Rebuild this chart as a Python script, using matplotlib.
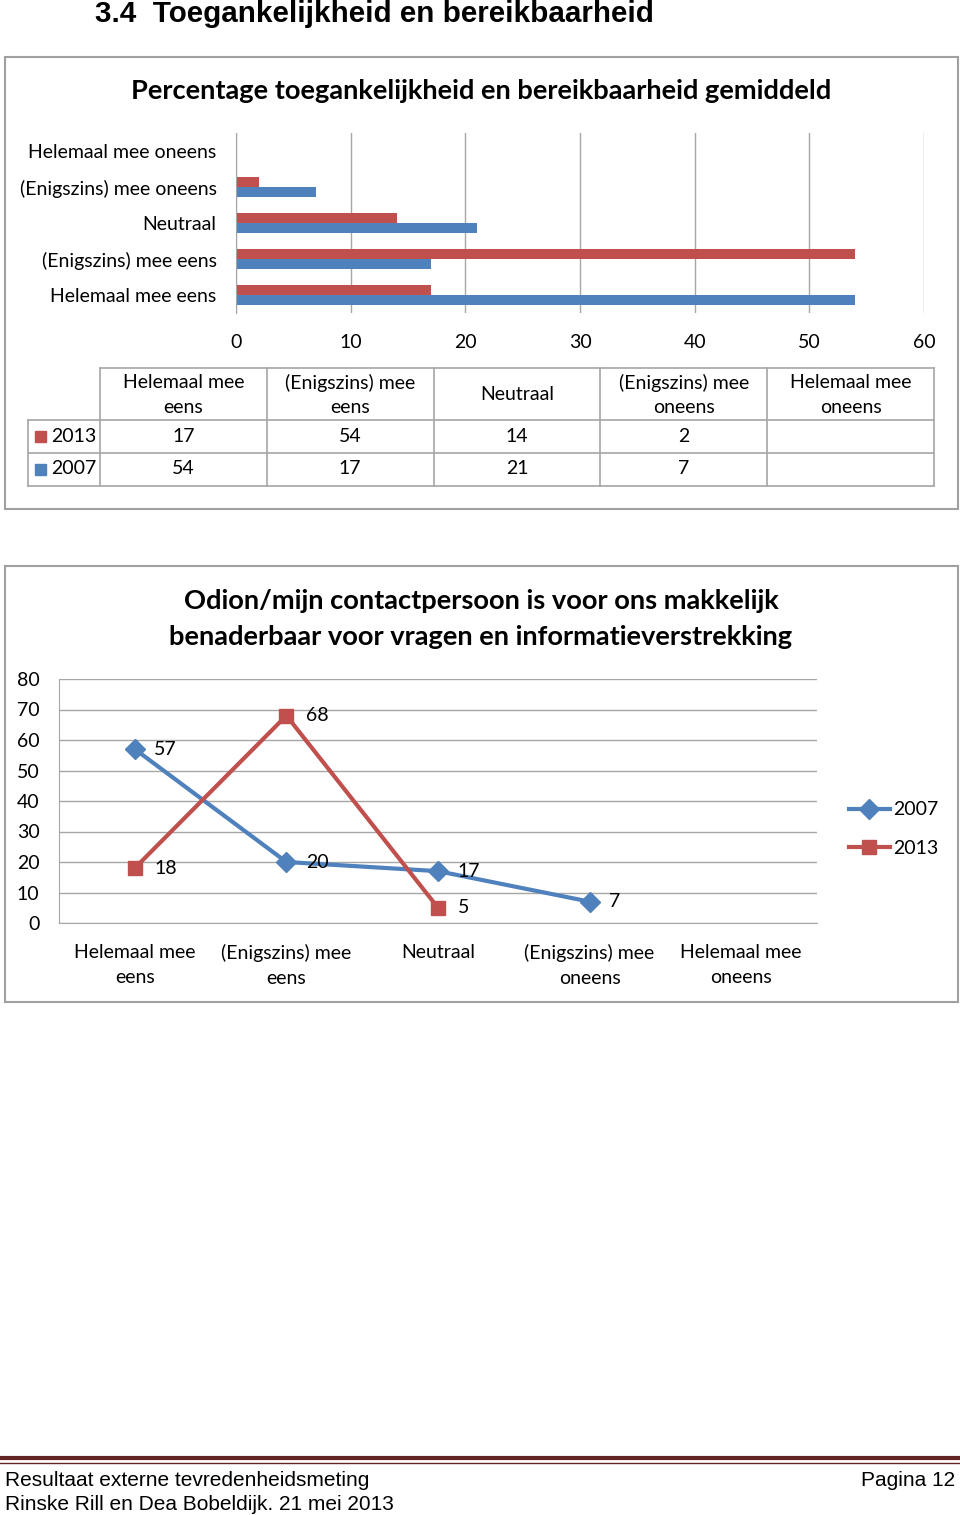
import numpy as np
import matplotlib
matplotlib.use("Agg")
import matplotlib.pyplot as plt
from matplotlib.patches import Rectangle
from matplotlib.lines import Line2D

W, H = 960, 1515

# --- data ---
categories = ["Helemaal mee eens", "(Enigszins) mee eens", "Neutraal",
              "(Enigszins) mee oneens", "Helemaal mee oneens"]
header_labels = ["Helemaal mee\neens", "(Enigszins) mee\neens", "Neutraal",
                 "(Enigszins) mee\noneens", "Helemaal mee\noneens"]
bar_2013 = [17, 54, 14, 2, np.nan]
bar_2007 = [54, 17, 21, 7, np.nan]
bar_ticks = [0, 10, 20, 30, 40, 50, 60]

line_cats = ["Helemaal mee\neens", "(Enigszins) mee\neens", "Neutraal",
             "(Enigszins) mee\noneens", "Helemaal mee\noneens"]
line_2007 = [57, 20, 17, 7, np.nan]
line_2013 = [18, 68, 5, np.nan, np.nan]
line_ticks = [0, 10, 20, 30, 40, 50, 60, 70, 80]

BLUE = "#4F81BD"
RED = "#C0504D"
GRID = "#A6A6A6"
BORDER = "#A0A0A0"
FONT = "Lato"
FS = 14


def rect(x0, y0, x1, y1):
    # pixel box (top-left origin) -> figure coords
    return [x0 / W, 1 - y1 / H, (x1 - x0) / W, (y1 - y0) / H]


def fx(x):
    return x / W


def fy(y):
    return 1 - y / H


fig = plt.figure(figsize=(W / 100, H / 100), dpi=100)
plt.rcParams["font.family"] = [FONT, "DejaVu Sans"]

# heading
fig.text(fx(95), fy(14), "3.4  Toegankelijkheid en bereikbaarheid",
         fontsize=21.3, fontweight="bold", family="Liberation Sans",
         ha="left", va="center")

# chart boxes
for box in [(5, 57, 958, 509), (5, 566, 958, 1002)]:
    fig.add_artist(Rectangle((fx(box[0]), fy(box[3])),
                             (box[2] - box[0]) / W, (box[3] - box[1]) / H,
                             transform=fig.transFigure, fill=False,
                             edgecolor=BORDER, lw=1.5))

# ---------- chart 1: horizontal bars ----------
fig.text(fx(481), fy(91), "Percentage toegankelijkheid en bereikbaarheid gemiddeld",
         fontsize=19.6, fontweight="bold", ha="center", va="center")

ax1 = fig.add_axes(rect(236, 133, 924, 313))
y = np.arange(len(categories))
ax1.barh(y - 0.15, bar_2007, height=0.28, color=BLUE)
ax1.barh(y + 0.14, bar_2013, height=0.28, color=RED)
ax1.set_xlim(0, 60)
ax1.set_ylim(-0.5, 4.5)
ax1.set_xticks(bar_ticks)
ax1.set_yticks(y)
ax1.set_yticklabels(categories)
ax1.xaxis.grid(True, color=GRID, lw=1)
ax1.set_axisbelow(True)
for s in ["top", "right", "bottom"]:
    ax1.spines[s].set_visible(False)
ax1.spines["left"].set_color(GRID)
ax1.tick_params(axis="both", length=0, labelsize=FS)
ax1.tick_params(axis="y", pad=14)
ax1.tick_params(axis="x", pad=15)

# data table under chart 1
tab = fig.add_axes(rect(28, 368, 934, 486))
tab.set_xlim(28, 934)
tab.set_ylim(486, 368)
tab.axis("off")
col_edges = np.linspace(100, 934, len(categories) + 1)
lc = dict(color=GRID, lw=1.2, clip_on=False)
tab.plot([100, 934], [368, 368], **lc)
for yy in [420, 453, 486]:
    tab.plot([28, 934], [yy, yy], **lc)
tab.plot([28, 28], [420, 486], **lc)
for xx in col_edges:
    tab.plot([xx, xx], [368, 486], **lc)
centers = (col_edges[:-1] + col_edges[1:]) / 2
for cx, lab in zip(centers, header_labels):
    tab.text(cx, 395, lab, ha="center", va="center", fontsize=FS,
             linespacing=1.55)
for row_y, name, vals, col in [(436, "2013", bar_2013, RED),
                               (469, "2007", bar_2007, BLUE)]:
    tab.add_patch(Rectangle((35, row_y - 5), 11, 11, color=col))
    tab.text(51, row_y, name, ha="left", va="center", fontsize=FS)
    for cx, v in zip(centers, vals):
        if not np.isnan(v):
            tab.text(cx, row_y, f"{v:g}", ha="center", va="center", fontsize=FS)

# ---------- chart 2: lines ----------
fig.text(fx(481), fy(619),
         "Odion/mijn contactpersoon is voor ons makkelijk\nbenaderbaar voor vragen en informatieverstrekking",
         fontsize=19.6, fontweight="bold", ha="center", va="center", linespacing=1.58)

ax2 = fig.add_axes(rect(59, 679, 817, 923))
x = np.arange(len(line_cats))
ax2.plot(x, line_2007, color=BLUE, lw=3, marker="D", ms=10, label="2007")
ax2.plot(x, line_2013, color=RED, lw=3, marker="s", ms=10, label="2013")
for xs, vals in [(x, line_2007), (x, line_2013)]:
    for xi, v in zip(xs, vals):
        if not np.isnan(v):
            ax2.annotate(f"{v:g}", (xi, v), xytext=(14, 0),
                         textcoords="offset points", ha="left", va="center",
                         fontsize=FS)
ax2.set_xlim(-0.5, 4.5)
ax2.set_ylim(0, 80)
ax2.set_yticks(line_ticks)
ax2.set_xticks(x)
ax2.set_xticklabels(line_cats, linespacing=1.6)
ax2.yaxis.grid(True, color=GRID, lw=1)
ax2.set_axisbelow(True)
for s in ["top", "right"]:
    ax2.spines[s].set_visible(False)
ax2.spines["left"].set_color(GRID)
ax2.spines["bottom"].set_color(GRID)
ax2.tick_params(axis="both", length=0, labelsize=FS)
ax2.tick_params(axis="y", pad=14)
ax2.tick_params(axis="x", pad=15)
ax2.legend(loc="center left", bbox_to_anchor=(fx(839), fy(829)),
           bbox_transform=fig.transFigure, frameon=False, fontsize=FS,
           handlelength=2.1, handletextpad=0.2, labelspacing=1.1,
           borderpad=0)

# ---------- footer ----------
fig.add_artist(Line2D([0, 1], [fy(1458), fy(1458)], transform=fig.transFigure,
                      color="#632523", lw=3))
fig.add_artist(Line2D([0, 1], [fy(1463), fy(1463)], transform=fig.transFigure,
                      color="#632523", lw=1))
fig.text(fx(5), fy(1480), "Resultaat externe tevredenheidsmeting",
         family="Liberation Sans", fontsize=15, ha="left", va="center")
fig.text(fx(5), fy(1504), "Rinske Rill en Dea Bobeldijk. 21 mei 2013",
         family="Liberation Sans", fontsize=15, ha="left", va="center")
fig.text(fx(955), fy(1480), "Pagina 12",
         family="Liberation Sans", fontsize=15, ha="right", va="center")

fig.savefig("out.png", dpi=100)
